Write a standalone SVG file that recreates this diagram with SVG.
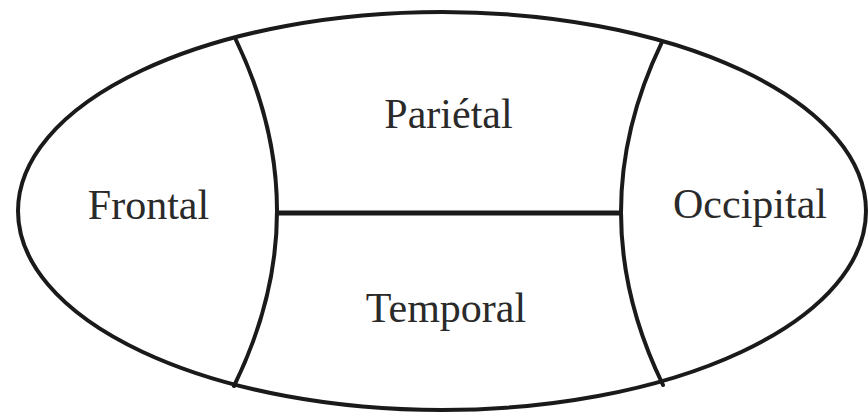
<svg xmlns="http://www.w3.org/2000/svg" width="868" height="414" viewBox="0 0 868 414">
<style>
.ln{fill:none;stroke:#1a1a1a;stroke-width:4;stroke-linecap:round}
.lb{font-family:"Liberation Serif",serif;font-size:42px;fill:#2a2a2a;text-anchor:middle}
</style>
<rect width="868" height="414" fill="#fff"/>
<g id="outline"><ellipse class="ln" cx="442" cy="211" rx="424" ry="199"/></g>
<g id="connectors">
<path class="ln" d="M236,40 Q319,213 234,386"/>
<path class="ln" d="M662,42 Q579.5,213 663,385"/>
<line class="ln" x1="277" y1="213" x2="621" y2="213" style="stroke-width:5;stroke-linecap:butt"/>
</g>
<g id="frontal"><text class="lb" x="148.5" y="219">Frontal</text></g>
<g id="parietal"><text class="lb" x="448.5" y="128">Pariétal</text></g>
<g id="occipital"><text class="lb" x="750" y="218">Occipital</text></g>
<g id="temporal"><text class="lb" x="446" y="322">Temporal</text></g>
</svg>
